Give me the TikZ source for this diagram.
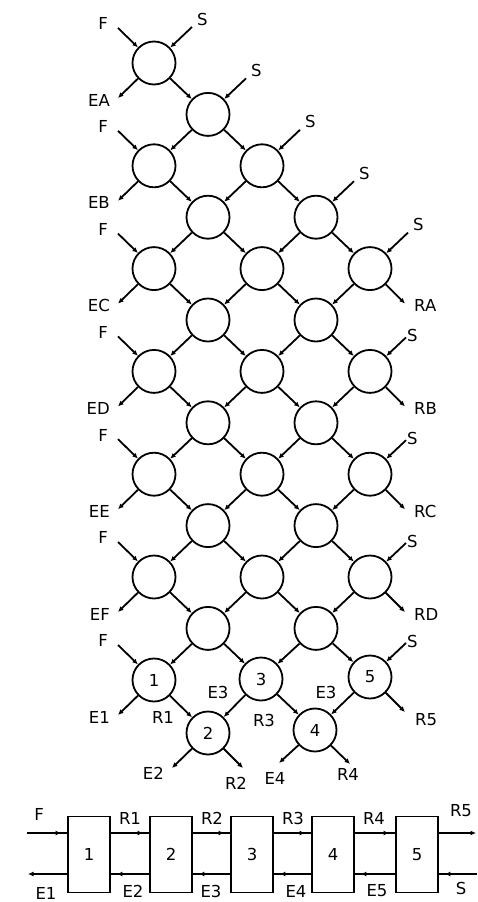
\documentclass[tikz,border=0pt]{standalone}
\usepackage{fontspec}
\setmainfont{DejaVu Sans}
\usetikzlibrary{arrows.meta,decorations.markings,calc}
\begin{document}
\begin{tikzpicture}[x=1pt,y=-1pt,
  font=\fontsize{16.5}{18}\selectfont,
  cell/.style={circle,draw,line width=1.8pt,minimum size=43pt,inner sep=0pt},
  arr/.style={line width=1.8pt,-{Latex[length=5.5pt,width=5pt]}},
  lbl/.style={inner sep=0pt},
  blk/.style={draw,line width=1.8pt,minimum width=42pt,minimum height=76pt,inner sep=0pt},
  flow/.style={line width=1.8pt,postaction={decorate},
    decoration={markings,mark=at position -6pt with {\arrow{Latex[length=5.5pt,width=5pt]}}}},
]
\useasboundingbox (0,0) rectangle (477,902);

% lattice cells
\foreach \r/\c in {0/0,1/1,2/0,2/2,3/1,3/3,4/0,4/2,4/4,5/1,5/3,6/0,6/2,6/4,7/1,7/3,8/0,8/2,8/4,9/1,9/3,10/0,10/2,10/4,11/1,11/3}
  \node[cell] (n\r-\c) at ({154+54*\c},{63+51.4*\r}) {};
\node[cell] (n12-0) at (154,680) {1};
\node[cell] (n13-1) at (208,733) {2};
\node[cell] (n12-2) at (261,679) {3};
\node[cell] (n13-3) at (315,730) {4};
\node[cell] (n12-4) at (370,677) {5};

% internal connectors, down-right
\foreach \r/\c in {0/0,1/1,2/0,2/2,3/1,3/3,4/0,4/2,5/1,5/3,6/0,6/2,7/1,7/3,8/0,8/2,9/1,9/3,10/0,10/2,11/1,11/3,12/0,12/2} {
  \pgfmathtruncatemacro\rr{\r+1}
  \pgfmathtruncatemacro\cc{\c+1}
  \draw[arr] (n\r-\c) -- (n\rr-\cc);
}
% internal connectors, down-left
\foreach \r/\c in {1/1,2/2,3/1,3/3,4/2,4/4,5/1,5/3,6/2,6/4,7/1,7/3,8/2,8/4,9/1,9/3,10/2,10/4,11/1,11/3,12/2,12/4} {
  \pgfmathtruncatemacro\rr{\r+1}
  \pgfmathtruncatemacro\cc{\c-1}
  \draw[arr] (n\r-\c) -- (n\rr-\cc);
}

% F inputs and E outputs on the left
\foreach \r/\e in {0/EA,2/EB,4/EC,6/ED,8/EE,10/EF,12/E1} {
  \coordinate (f\r) at ($(n\r-0)+(-36,-35)$);
  \coordinate (e\r) at ($(n\r-0)+(-36,35)$);
  \draw[arr] (f\r) -- (n\r-0);
  \draw[arr] (n\r-0) -- (e\r);
  \node[lbl,anchor=south east] (fl\r) at ($(f\r)+(-10,2)$) {F};
  \node[lbl,anchor=east] (el\r) at ($(e\r)+(-8,2)$) {\e};
}

% S inputs
\foreach \r/\c in {0/0,1/1,2/2,3/3,4/4} {
  \coordinate (s\r) at ($(n\r-\c)+(38,-36)$);
  \draw[arr] (s\r) -- (n\r-\c);
  \node[lbl,anchor=west] (sl\r) at ($(s\r)+(5,-8)$) {S};
}
\foreach \r in {6,8,10,12} {
  \coordinate (s\r) at ($(n\r-4)+(36,-34)$);
  \draw[arr] (s\r) -- (n\r-4);
  \node[lbl,anchor=west] (sl\r) at ($(s\r)+(1,-2)$) {S};
}

% R outputs on the right
\foreach \r/\t in {4/RA,6/RB,8/RC,10/RD} {
  \coordinate (o\r) at ($(n\r-4)+(35,35)$);
  \draw[arr] (n\r-4) -- (o\r);
  \node[lbl,anchor=west] (rl\r) at ($(o\r)+(9,2)$) {\t};
}
\coordinate (o12) at ($(n12-4)+(35,35)$);
\draw[arr] (n12-4) -- (o12);
\node[lbl,anchor=west] (rl12) at ($(o12)+(10,8)$) {R5};

% outputs of the last row
\coordinate (e13) at ($(n13-1)+(-36,35)$);
\coordinate (r13) at ($(n13-1)+(35,35)$);
\coordinate (e14) at ($(n13-3)+(-36,33)$);
\coordinate (r14) at ($(n13-3)+(35,34)$);
\draw[arr] (n13-1) -- (e13);
\draw[arr] (n13-1) -- (r13);
\draw[arr] (n13-3) -- (e14);
\draw[arr] (n13-3) -- (r14);
\node[lbl,anchor=east] (le2) at ($(e13)+(-8,5)$) {E2};
\node[lbl,anchor=north] (lr2) at ($(r13)+(-7,9)$) {R2};
\node[lbl,anchor=north] (le4) at ($(e14)+(-4,9)$) {E4};
\node[lbl,anchor=north] (lr4) at ($(r14)+(-2,4)$) {R4};

% labels on the lower connectors
\node[lbl] (lr1) at (163,717) {R1};
\node[lbl] (le3a) at (218,692) {E3};
\node[lbl] (lr3) at (264,720) {R3};
\node[lbl] (le3b) at (326,692) {E3};

% block diagram
\node[blk] (b1) at (89,854.5) {1};
\node[blk] (b2) at (171,854.5) {2};
\node[blk] (b3) at (252,854.5) {3};
\node[blk] (b4) at (333,854.5) {4};
\node[blk] (b5) at (417,854.5) {5};
\coordinate (fin) at (27,833);
\coordinate (eout) at (28,874);
\coordinate (rout) at (476,833);
\coordinate (sin) at (477,874);
\draw[flow] (fin) -- (b1.west |- fin);
\draw[arr] (b1.west |- eout) -- (eout);
\foreach \a/\b in {1/2,2/3,3/4,4/5} {
  \draw[flow] (b\a.east |- fin) -- (b\b.west |- fin);
  \draw[flow] (b\b.west |- eout) -- (b\a.east |- eout);
}
\draw[arr] (b5.east |- rout) -- (rout);
\draw[flow] (sin) -- (b5.east |- sin);

\node[lbl] (tF) at (39,814) {F};
\node[lbl] (tE1) at (46,893) {E1};
\node[lbl] (tR1) at (130,818) {R1};
\node[lbl] (tR2) at (212,818) {R2};
\node[lbl] (tR3) at (293,818) {R3};
\node[lbl] (tR4) at (374,818) {R4};
\node[lbl] (tR5) at (461,811) {R5};
\node[lbl] (tE2) at (133,891) {E2};
\node[lbl] (tE3) at (211,891) {E3};
\node[lbl] (tE4) at (296,891) {E4};
\node[lbl] (tE5) at (377,891) {E5};
\node[lbl] (tS) at (461,888) {S};
\end{tikzpicture}
\end{document}
